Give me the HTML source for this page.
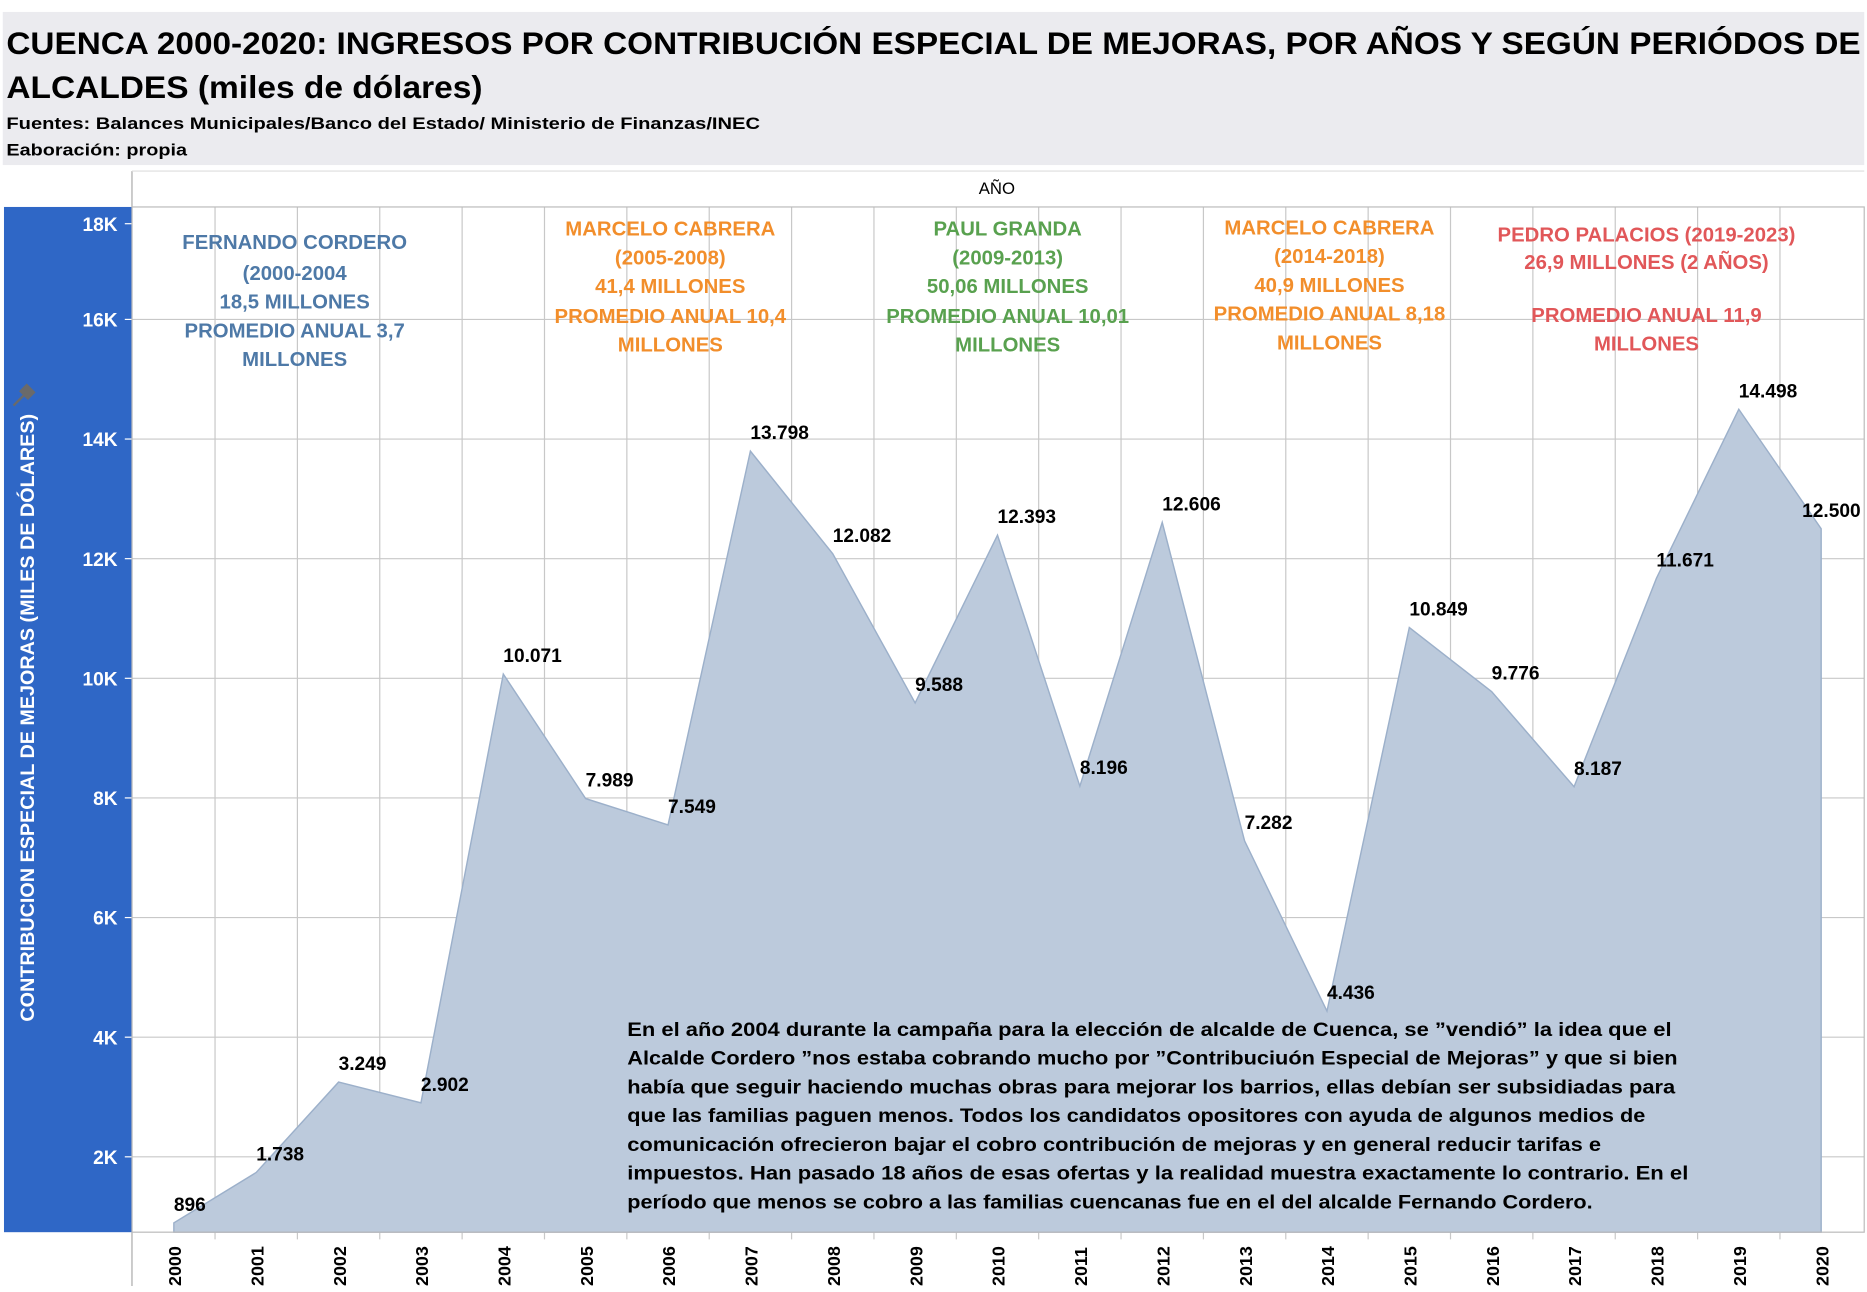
<!DOCTYPE html>
<html><head><meta charset="utf-8"><style>
html,body{margin:0;padding:0;background:#fff;}
svg{display:block;font-family:"Liberation Sans",sans-serif;}
</style></head><body>
<svg id="chart" width="1867" height="1292" viewBox="0 0 1560 1080" xmlns="http://www.w3.org/2000/svg">
<rect x="2" y="10" width="1556" height="128" fill="#ebebef"/>
<text x="5" y="45" font-size="26" font-weight="bold" textLength="1550" lengthAdjust="spacingAndGlyphs">CUENCA 2000-2020: INGRESOS POR CONTRIBUCIÓN ESPECIAL DE MEJORAS, POR AÑOS Y SEGÚN PERIÓDOS DE</text>
<text x="5" y="82" font-size="26" font-weight="bold" textLength="398" lengthAdjust="spacingAndGlyphs">ALCALDES (miles de dólares)</text>
<text x="5" y="108" font-size="14" font-weight="bold" textLength="630" lengthAdjust="spacingAndGlyphs">Fuentes: Balances Municipales/Banco del Estado/ Ministerio de Finanzas/INEC</text>
<text x="5" y="130" font-size="14" font-weight="bold" textLength="151" lengthAdjust="spacingAndGlyphs">Eaboración: propia</text>
<line x1="110" y1="143" x2="110" y2="1075" stroke="#aaa" stroke-width="1"/>
<line x1="110" y1="143" x2="1558" y2="143" stroke="#ddd"/>
<text x="833" y="162" font-size="14" text-anchor="middle">AÑO</text>
<rect x="3" y="173" width="107" height="857" fill="#2f67c6"/>
<text transform="translate(28,600) rotate(-90)" font-size="16" font-weight="bold" fill="#fff" text-anchor="middle" textLength="508" lengthAdjust="spacingAndGlyphs">CONTRIBUCION ESPECIAL DE MEJORAS (MILES DE DÓLARES)</text>
<path d="M14,336 L20,330 L17,327 L22,322 L28,328 L23,333 L20,330 M17,333 L11,339" fill="#6a6a6a" stroke="#6a6a6a" stroke-width="2"/>
<g id="grid"></g><g id="area"></g><g id="labels"></g><g id="annot"></g>
<rect x="110" y="173" width="1448" height="857" fill="none" stroke="#bbb"/>
<g font-size="16" font-weight="bold">
<text x="524" y="866" textLength="873" lengthAdjust="spacingAndGlyphs">En el año 2004 durante la campaña para la elección de alcalde de Cuenca, se ”vendió” la idea que  el</text>
<text x="524" y="890" textLength="878" lengthAdjust="spacingAndGlyphs">Alcalde Cordero ”nos estaba cobrando mucho por ”Contribuciuón Especial de Mejoras” y que si bien</text>
<text x="524" y="914" textLength="876" lengthAdjust="spacingAndGlyphs">había que seguir haciendo muchas obras para mejorar los barrios, ellas debían ser subsidiadas para</text>
<text x="524" y="938" textLength="851" lengthAdjust="spacingAndGlyphs">que las familias paguen menos. Todos los candidatos opositores con ayuda de algunos medios de</text>
<text x="524" y="962" textLength="814" lengthAdjust="spacingAndGlyphs">comunicación ofrecieron bajar el cobro contribución de mejoras y en general reducir tarifas e</text>
<text x="524" y="986" textLength="887" lengthAdjust="spacingAndGlyphs">impuestos. Han pasado 18 años de esas ofertas y la realidad muestra exactamente lo contrario. En el</text>
<text x="524" y="1010" textLength="807" lengthAdjust="spacingAndGlyphs">período que menos se cobro a las familias cuencanas fue en el del alcalde Fernando Cordero.</text>
</g>
</svg>
<script>
const years=[2000,2001,2002,2003,2004,2005,2006,2007,2008,2009,2010,2011,2012,2013,2014,2015,2016,2017,2018,2019,2020];
const values=[896,1738,3249,2902,10071,7989,7549,13798,12082,9588,12393,8196,12606,7282,4436,10849,9776,8187,11671,14498,12500];
const valueLabels=["896","1.738","3.249","2.902","10.071","7.989","7.549","13.798","12.082","9.588","12.393","8.196","12.606","7.282","4.436","10.849","9.776","8.187","11.671","14.498","12.500"];
const yTicks=[2000,4000,6000,8000,10000,12000,14000,16000,18000];
const yTickLabels=["2K","4K","6K","8K","10K","12K","14K","16K","18K"];
const NS="http://www.w3.org/2000/svg";
function x(i){return 145+i*(1522-145)/(years.length-1);}
function y(v){return 1067-v*0.05;}
function mk(tag,attrs,parent){const e=document.createElementNS(NS,tag);for(const k in attrs)e.setAttribute(k,attrs[k]);parent.appendChild(e);return e;}
const grid=document.getElementById('grid');
yTicks.forEach((t,i)=>{
  const yy=y(t);
  if(yy>173){const l=mk('line',{x1:110,x2:1558,y1:yy,y2:yy,stroke:'#c8c8c8'},grid);
  
  }
  mk('line',{x1:104,x2:110,y1:Math.max(yy,187),y2:Math.max(yy,187),stroke:'#fff'},grid);
  const tx=mk('text',{x:98,y:Math.max(yy,187)+6,'font-size':16,'font-weight':'bold',fill:'#fff','text-anchor':'end'},grid);
  tx.textContent=yTickLabels[i];
  
  
});
years.forEach((yr,i)=>{
  if(i>0){const xm=(x(i)+x(i-1))/2;mk('line',{x1:xm,x2:xm,y1:173,y2:1036,stroke:'#c8c8c8'},grid);}
  const t=mk('text',{transform:`translate(${x(i)+6},1075) rotate(-90)`,'font-size':15,'font-weight':'bold'},grid);
  t.textContent=yr;
  
  
});
const area=document.getElementById('area');
let d=`M${x(0)},1030`;values.forEach((v,i)=>d+=` L${x(i)},${y(v)}`);d+=` L${x(values.length-1)},1030 Z`;
const p=mk('path',{d:d,fill:'#bccadc',stroke:'#9cb0ca','stroke-width':1.2},area);


const lab=document.getElementById('labels');
values.forEach((v,i)=>{
  const last=i===values.length-1;
  const t=mk('text',{x:last?1555:x(i),y:y(v)-10,'font-size':16,'font-weight':'bold','text-anchor':last?'end':'start'},lab);
  t.textContent=valueLabels[i];
  
  
});
const notes=[
 {c:'#4e79a7',x:246,ys:[208,234,258,282,306],l:['FERNANDO CORDERO','(2000-2004','18,5 MILLONES','PROMEDIO ANUAL 3,7','MILLONES'],n:'annotation-cordero'},
 {c:'#f28e2b',x:560,ys:[197,221,245,270,294],l:['MARCELO CABRERA','(2005-2008)','41,4 MILLONES','PROMEDIO ANUAL 10,4','MILLONES'],n:'annotation-cabrera-1'},
 {c:'#59a14f',x:842,ys:[197,221,245,270,294],l:['PAUL GRANDA','(2009-2013)','50,06 MILLONES','PROMEDIO ANUAL 10,01','MILLONES'],n:'annotation-granda'},
 {c:'#f28e2b',x:1111,ys:[196,220,244,268,292],l:['MARCELO CABRERA','(2014-2018)','40,9 MILLONES','PROMEDIO ANUAL 8,18','MILLONES'],n:'annotation-cabrera-2'},
 {c:'#e15759',x:1376,ys:[202,225,269,293],l:['PEDRO PALACIOS (2019-2023)','26,9 MILLONES (2 AÑOS)','PROMEDIO ANUAL 11,9','MILLONES'],n:'annotation-palacios'}
];
const an=document.getElementById('annot');
notes.forEach(o=>{
  const g=mk('g',{fill:o.c,'font-size':17,'font-weight':'bold','text-anchor':'middle'},an);
  
  
  o.l.forEach((s,k)=>{const t=mk('text',{x:o.x,y:o.ys[k]},g);t.textContent=s;});
});
</script>
</body></html>
